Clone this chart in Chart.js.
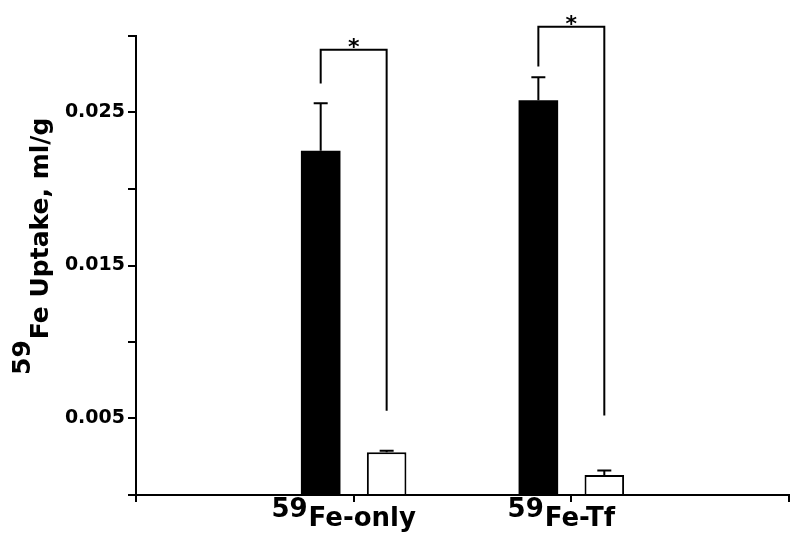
<!DOCTYPE html>
<html>
<head>
<meta charset="utf-8">
<script src="https://cdn.jsdelivr.net/npm/chart.js@4.4.1/dist/chart.umd.min.js"></script>
<style>
  html, body { margin: 0; padding: 0; background: #fff; }
  #wrap { width: 800px; height: 545px; }
</style>
</head>
<body>
<div id="wrap"><canvas id="c" width="800" height="545"></canvas></div>
<script>
// ---- data ----
const isotope = '59';
const categories = ['', 'Fe-only', 'Fe-Tf', ''];
const filledValues = [null, 0.0225, 0.0258, null];
const filledErrors = [null, 0.0031, 0.0015, null];
const openValues = [null, 0.0028, 0.0013, null];
const openErrors = [null, 0.0001, 0.0003, null];
const bracketTop = [null, 0.0291, 0.0306, null];
const bracketLeftEnd = [null, 0.0269, 0.0280, null];
const bracketRightEnd = [null, 0.0055, 0.0052, null];
const bracketMark = [null, '*', '*', null];
const yTickValues = [0, 0.005, 0.010, 0.015, 0.020, 0.025, 0.030];
const yTickLabels = ['', '0.005', '', '0.015', '', '0.025', ''];
const yTitleMain = 'Fe Uptake, ml/g';

const errorsByDataset = [filledErrors, openErrors];
const FONT = '"DejaVu Sans", sans-serif';

const errorBarPlugin = {
  id: 'errorBars',
  afterDatasetsDraw(chart) {
    const ctx = chart.ctx;
    const ys = chart.scales.y;
    ctx.save();
    ctx.strokeStyle = '#000';
    ctx.lineWidth = 2;
    chart.data.datasets.forEach((ds, di) => {
      const meta = chart.getDatasetMeta(di);
      meta.data.forEach((bar, i) => {
        const v = ds.data[i];
        const e = errorsByDataset[di][i];
        if (v == null || e == null) return;
        const yTop = ys.getPixelForValue(v + e);
        const yBar = ys.getPixelForValue(v);
        ctx.beginPath();
        ctx.moveTo(bar.x, yBar);
        ctx.lineTo(bar.x, yTop);
        ctx.moveTo(bar.x - 7, yTop);
        ctx.lineTo(bar.x + 7, yTop);
        ctx.stroke();
      });
    });
    ctx.restore();
  }
};

const bracketPlugin = {
  id: 'brackets',
  afterDraw(chart) {
    const ctx = chart.ctx;
    const ys = chart.scales.y;
    const m0 = chart.getDatasetMeta(0);
    const m1 = chart.getDatasetMeta(1);
    ctx.save();
    ctx.strokeStyle = '#000';
    ctx.fillStyle = '#000';
    ctx.lineWidth = 2;
    categories.forEach((c, i) => {
      if (bracketTop[i] == null) return;
      const x0 = m0.data[i].x, x1 = m1.data[i].x;
      const yt = ys.getPixelForValue(bracketTop[i]);
      const yl = ys.getPixelForValue(bracketLeftEnd[i]);
      const yr = ys.getPixelForValue(bracketRightEnd[i]);
      ctx.beginPath();
      ctx.moveTo(x0, yl);
      ctx.lineTo(x0, yt);
      ctx.lineTo(x1, yt);
      ctx.lineTo(x1, yr);
      ctx.stroke();
      ctx.font = 'bold 22px ' + FONT;
      ctx.textAlign = 'center';
      ctx.textBaseline = 'alphabetic';
      ctx.fillText(bracketMark[i], (x0 + x1) / 2, yt + 4);
    });
    ctx.restore();
  }
};

const labelPlugin = {
  id: 'isotopeLabels',
  afterDraw(chart) {
    const ctx = chart.ctx;
    const xs = chart.scales.x;
    const area = chart.chartArea;
    ctx.save();
    ctx.fillStyle = '#000';
    ctx.textBaseline = 'alphabetic';
    ctx.textAlign = 'left';
    ctx.font = 'bold 26px ' + FONT;
    const wIso = ctx.measureText(isotope).width;
    categories.forEach((name, i) => {
      if (!name) return;
      const x = xs.getPixelForTick(i);
      const wName = ctx.measureText(name).width;
      const total = wIso + 1 + wName;
      const start = x - total / 2 - 10;
      ctx.fillText(isotope, start, area.bottom + 22);
      ctx.fillText(name, start + wIso + 1, area.bottom + 31);
    });
    ctx.font = 'bold 25px ' + FONT;
    const wIso2 = ctx.measureText(isotope).width;
    ctx.translate(0, 375);
    ctx.rotate(-Math.PI / 2);
    ctx.fillText(isotope, 0, 30);
    ctx.fillText(yTitleMain, wIso2 + 1, 48);
    ctx.restore();
  }
};

new Chart(document.getElementById('c'), {
  type: 'bar',
  data: {
    labels: categories,
    datasets: [
      {
        label: 'Filled',
        data: filledValues,
        backgroundColor: '#000',
        borderWidth: 0,
        categoryPercentage: 0.606,
        barPercentage: 0.6
      },
      {
        label: 'Open',
        data: openValues,
        backgroundColor: '#fff',
        borderColor: '#000',
        borderWidth: 2,
        borderSkipped: 'bottom',
        categoryPercentage: 0.606,
        barPercentage: 0.6
      }
    ]
  },
  options: {
    responsive: false,
    animation: false,
    devicePixelRatio: 1,
    layout: { padding: { left: 0, right: 11, top: 36, bottom: 0 } },
    plugins: {
      legend: { display: false },
      tooltip: { enabled: false },
      title: { display: false }
    },
    scales: {
      x: {
        type: 'category',
        offset: false,
        grid: {
          display: true,
          offset: false,
          drawOnChartArea: false,
          drawTicks: true,
          tickLength: 7,
          color: '#000',
          lineWidth: 2
        },
        border: { display: true, color: '#000', width: 2 },
        ticks: { display: false },
        afterFit: (s) => { s.height = 50; }
      },
      y: {
        type: 'linear',
        min: 0,
        max: 0.030,
        grid: {
          display: true,
          drawOnChartArea: false,
          drawTicks: true,
          tickLength: 8,
          color: '#000',
          lineWidth: 2
        },
        border: { display: true, color: '#000', width: 2 },
        afterBuildTicks: (s) => { s.ticks = yTickValues.map(v => ({ value: v })); },
        ticks: {
          color: '#000',
          padding: 3,
          font: { family: FONT, size: 19, weight: 'bold' },
          callback: (v, i) => yTickLabels[i]
        },
        afterFit: (s) => { s.width = 136; }
      }
    }
  },
  plugins: [errorBarPlugin, bracketPlugin, labelPlugin]
});
</script>
</body>
</html>
